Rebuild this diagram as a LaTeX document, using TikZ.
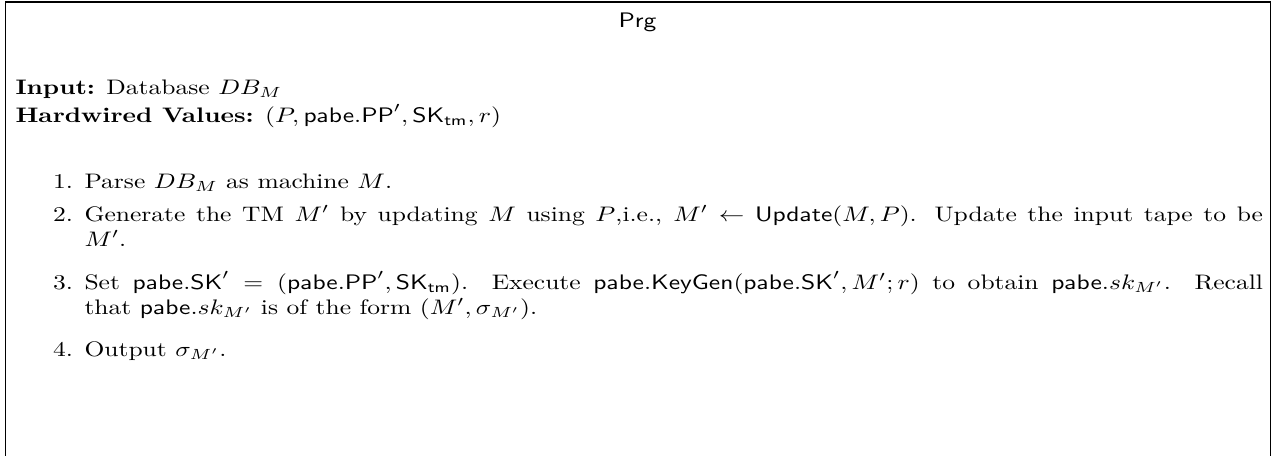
\documentclass[tikz,border=0pt]{standalone}
\usepackage{amsmath}
\usepackage{graphicx}
\usepackage{tikz}
\tikzset{every picture/.style={line width=0.5pt}}
% the reference page is wider than it is tall: stretch the text sideways
\newcommand{\hstretch}[1]{\scalebox{1.215}[1]{#1}}
\newcommand{\itemtext}[1]{\hstretch{\parbox[t]{461.7pt}{#1}}}
\tikzset{
  txt/.style={anchor=base west,inner sep=0pt},
  numlab/.style={anchor=base east,inner sep=0pt},
  itembody/.style={anchor=base west,inner sep=0pt}
}

\begin{document}
\begin{tikzpicture}[x=0.476pt,y=0.476pt,yscale=-1,xscale=1]
%set diagram size to the reference page
\path[use as bounding box] (0,0) rectangle (1283,455);

%Straight Lines [frame, open at the bottom]
\draw (5.3,470) -- (5.3,2) -- (1270.7,2) -- (1270.7,470);

% Text Node
\node (prg) at (637.5,27) [anchor=base,inner sep=0pt] {\hstretch{\textsf{Prg}}};
% Text Node
\node (input) at (15,94.3) [txt] {\hstretch{\textbf{Input:} Database $DB_M$}};
% Text Node
\node (hw) at (15,122) [txt] {\hstretch{\textbf{Hardwired Values:} $(P,\mathsf{pabe.PP}',\mathsf{SK}_{\mathsf{tm}},r)$}};

% Text Node
\node (n1) at (73.5,188) [numlab] {\hstretch{1.}};
\node (s1) at (84,188) [itembody] {\itemtext{Parse $DB_M$ as machine $M$.}};
% Text Node
\node (n2) at (73.5,221) [numlab] {\hstretch{2.}};
\node (s2) at (84,221) [itembody] {\itemtext{Generate the TM $M'$ by updating $M$ using $P$,i.e., $M'\leftarrow\mathsf{Update}(M,P)$. Update the input tape to be\linebreak $M'$.}};
% Text Node
\node (n3) at (73.5,289) [numlab] {\hstretch{3.}};
\node (s3) at (84,289) [itembody] {\itemtext{Set $\mathsf{pabe.SK}'=(\mathsf{pabe.PP}',\mathsf{SK}_{\mathsf{tm}})$. Execute $\mathsf{pabe.KeyGen}(\mathsf{pabe.SK}',M';r)$ to obtain $\mathsf{pabe}.sk_{M'}$. Recall\linebreak that $\mathsf{pabe}.sk_{M'}$ is of the form $(M',\sigma_{M'})$.}};
% Text Node
\node (n4) at (73.5,356) [numlab] {\hstretch{4.}};
\node (s4) at (84,356) [itembody] {\itemtext{Output $\sigma_{M'}$.}};

\end{tikzpicture}
\end{document}
